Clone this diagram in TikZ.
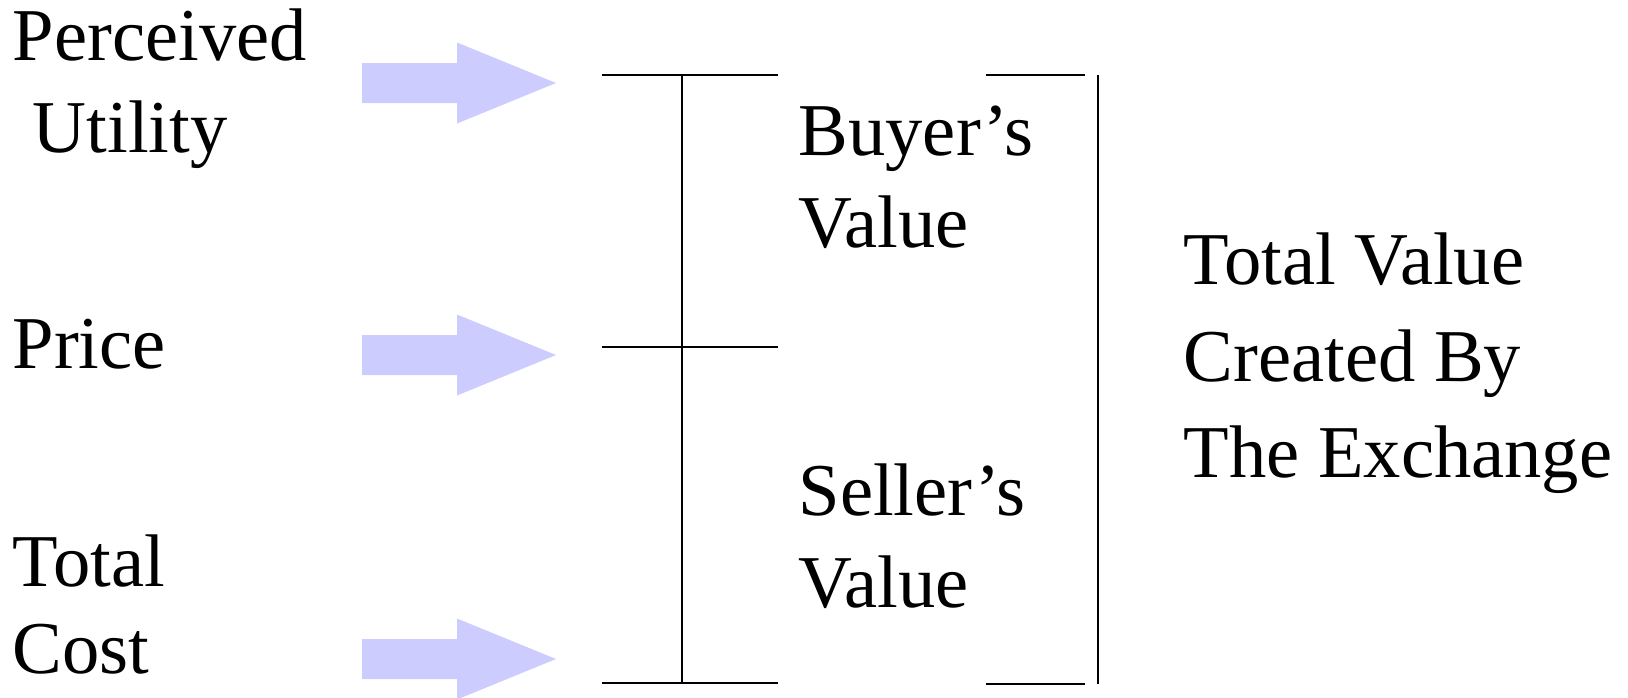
\documentclass[tikz,border=0pt]{standalone}
\usepackage{fontspec}
\setmainfont{Liberation Serif}
\usepackage{xcolor}
\usetikzlibrary{positioning}
\definecolor{arrowblue}{HTML}{CCCCFF}
\tikzset{
  lbl/.style={inner sep=0pt,anchor=base west,align=left,font=\fontsize{21.2}{26}\selectfont},
  bar/.style={line width=0.6pt}
}

\begin{document}
\begin{tikzpicture}[x=0.01cm,y=-0.01cm]
\useasboundingbox (0,0) rectangle (1628,697);
% fat arrows
\foreach \c/\n in {83/ua,355/pa,659/ca}{
  \fill[arrowblue](362,\c-20)--(457,\c-20)--(457,\c-40.5)--(556,\c)--(457,\c+40.5)--(457,\c+20)--(362,\c+20)--cycle;
  \coordinate(\n)at(556,\c);
}
% left scale
\coordinate(t1)at(602,75);\coordinate(t2)at(778,75);
\coordinate(m1)at(602,347);\coordinate(m2)at(778,347);
\coordinate(b1)at(602,683);\coordinate(b2)at(778,683);
\draw[bar](t1)--(t2)(m1)--(m2)(b1)--(b2)(682,75)--(682,683);
% right bracket
\coordinate(r1)at(986,75);\coordinate(r2)at(1098,75);
\coordinate(r3)at(986,684);\coordinate(r4)at(1098,684);
\draw[bar](r1)--(1085,75)(r3)--(1085,684)(r2)--(r4);
% labels (anchored at the last line)
\node[lbl](pu)at(12,152){Perceived\\\hspace*{0.27em}Utility};
\node[lbl](pr)at(12,368){Price};
\node[lbl,font=\fontsize{21.2}{24.5}\selectfont](tc)at(12,673){Total\\Cost};
\node[lbl](bv)at(798,247){Buyer’s\\Value};
\node[lbl](sv)at(798,607){Seller’s\\Value};
\node[lbl,font=\fontsize{21.2}{27.3}\selectfont](tv)at(1183,477){Total Value\\Created By\\The Exchange};
\end{tikzpicture}
\end{document}
